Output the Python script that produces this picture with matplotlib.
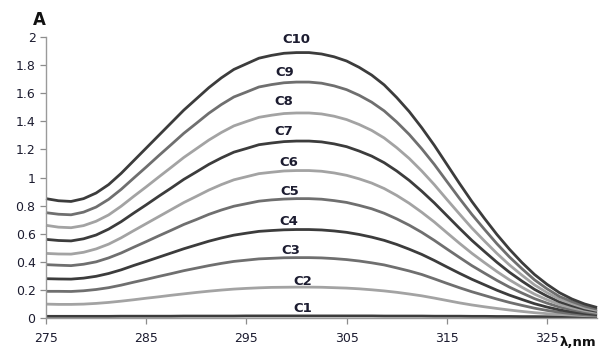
import matplotlib
matplotlib.use("Agg")
import matplotlib.pyplot as plt

# wavelength grid, nm (275 ... 330 every 1.25 nm)
wavelength = [275 + 1.25 * i for i in range(45)]

# absorbance of each solution
c1 = [0.012, 0.012, 0.012, 0.012, 0.012, 0.012, 0.013, 0.013, 0.013, 0.013, 0.013,
      0.014, 0.014, 0.014, 0.014, 0.014, 0.015, 0.015, 0.015, 0.015, 0.015, 0.015,
      0.015, 0.015, 0.015, 0.015, 0.015, 0.014, 0.014, 0.014, 0.014, 0.013, 0.013,
      0.013, 0.012, 0.012, 0.011, 0.011, 0.010, 0.010, 0.009, 0.009, 0.008, 0.008, 0.007]
c2 = [0.099, 0.097, 0.097, 0.099, 0.104, 0.111, 0.120, 0.130, 0.141, 0.151, 0.162,
      0.172, 0.182, 0.191, 0.199, 0.206, 0.211, 0.215, 0.218, 0.219, 0.22, 0.22,
      0.219, 0.216, 0.213, 0.208, 0.201, 0.193, 0.183, 0.171, 0.158, 0.142, 0.125,
      0.108, 0.093, 0.080, 0.068, 0.057, 0.047, 0.038, 0.031, 0.025, 0.021, 0.017, 0.015]
c3 = [0.19, 0.19, 0.189, 0.194, 0.203, 0.216, 0.234, 0.255, 0.275, 0.296, 0.316,
      0.337, 0.355, 0.373, 0.389, 0.403, 0.412, 0.421, 0.425, 0.429, 0.43, 0.43,
      0.428, 0.423, 0.416, 0.406, 0.393, 0.378, 0.357, 0.335, 0.31, 0.279, 0.247,
      0.216, 0.187, 0.161, 0.135, 0.111, 0.09, 0.07, 0.054, 0.041, 0.031, 0.023, 0.018]
c4 = [0.28, 0.278, 0.277, 0.284, 0.297, 0.317, 0.343, 0.374, 0.403, 0.433, 0.463,
      0.493, 0.52, 0.547, 0.57, 0.59, 0.604, 0.617, 0.623, 0.628, 0.63, 0.63,
      0.627, 0.62, 0.61, 0.595, 0.576, 0.553, 0.524, 0.49, 0.453, 0.41, 0.364,
      0.319, 0.276, 0.237, 0.198, 0.163, 0.132, 0.102, 0.078, 0.058, 0.043, 0.032, 0.024]
c5 = [0.38, 0.376, 0.373, 0.383, 0.40, 0.428, 0.463, 0.504, 0.544, 0.585, 0.625,
      0.666, 0.701, 0.738, 0.769, 0.796, 0.814, 0.832, 0.841, 0.847, 0.85, 0.85,
      0.846, 0.836, 0.823, 0.802, 0.778, 0.746, 0.706, 0.661, 0.61, 0.553, 0.492,
      0.432, 0.373, 0.32, 0.268, 0.22, 0.178, 0.138, 0.106, 0.078, 0.059, 0.043, 0.032]
c6 = [0.46, 0.456, 0.455, 0.468, 0.492, 0.526, 0.571, 0.622, 0.672, 0.722, 0.772,
      0.822, 0.866, 0.911, 0.95, 0.984, 1.006, 1.028, 1.038, 1.047, 1.05, 1.05,
      1.045, 1.033, 1.016, 0.991, 0.961, 0.922, 0.873, 0.817, 0.753, 0.684, 0.608,
      0.533, 0.461, 0.395, 0.331, 0.272, 0.219, 0.17, 0.13, 0.096, 0.072, 0.053, 0.039]
c7 = [0.56, 0.552, 0.549, 0.564, 0.591, 0.633, 0.686, 0.747, 0.806, 0.867, 0.926,
      0.987, 1.04, 1.094, 1.14, 1.181, 1.207, 1.234, 1.246, 1.256, 1.26, 1.26,
      1.254, 1.24, 1.22, 1.189, 1.153, 1.106, 1.047, 0.98, 0.903, 0.82, 0.73,
      0.64, 0.553, 0.474, 0.397, 0.326, 0.263, 0.204, 0.156, 0.115, 0.087, 0.063, 0.047]
c8 = [0.66, 0.647, 0.643, 0.658, 0.689, 0.734, 0.796, 0.866, 0.934, 1.004, 1.073,
      1.143, 1.205, 1.267, 1.321, 1.368, 1.399, 1.429, 1.444, 1.456, 1.46, 1.46,
      1.453, 1.437, 1.413, 1.378, 1.336, 1.282, 1.213, 1.136, 1.047, 0.95, 0.845,
      0.742, 0.641, 0.549, 0.46, 0.378, 0.305, 0.236, 0.181, 0.133, 0.102, 0.073, 0.054]
c9 = [0.75, 0.739, 0.735, 0.754, 0.79, 0.845, 0.916, 0.996, 1.075, 1.156, 1.235,
      1.315, 1.386, 1.458, 1.52, 1.574, 1.609, 1.645, 1.662, 1.675, 1.68, 1.68,
      1.672, 1.653, 1.626, 1.586, 1.537, 1.475, 1.396, 1.307, 1.205, 1.094, 0.973,
      0.853, 0.738, 0.632, 0.529, 0.435, 0.351, 0.272, 0.208, 0.153, 0.117, 0.085, 0.063]
c10 = [0.85, 0.835, 0.83, 0.85, 0.89, 0.95, 1.03, 1.12, 1.21, 1.30, 1.39,
       1.48, 1.56, 1.64, 1.71, 1.77, 1.81, 1.85, 1.87, 1.885, 1.89, 1.89,
       1.88, 1.86, 1.83, 1.785, 1.73, 1.66, 1.57, 1.47, 1.355, 1.23, 1.095,
       0.96, 0.83, 0.71, 0.595, 0.49, 0.395, 0.31, 0.24, 0.18, 0.135, 0.10, 0.075]

series = [c1, c2, c3, c4, c5, c6, c7, c8, c9, c10]
names = ["C1", "C2", "C3", "C4", "C5", "C6", "C7", "C8", "C9", "C10"]
# where each curve name sits (wavelength, absorbance)
label_x = [300.6, 300.6, 299.4, 299.2, 299.3, 299.2, 298.7, 298.7, 298.8, 300.0]
label_y = [0.07, 0.26, 0.48, 0.69, 0.90, 1.11, 1.33, 1.54, 1.75, 1.98]

dark, mid, light = "#3c3c3c", "#6f6f6f", "#a3a3a3"
colors = [dark, light, mid, dark, mid, light, dark, light, mid, dark]

yticks = [0, 0.2, 0.4, 0.6, 0.8, 1, 1.2, 1.4, 1.6, 1.8, 2]
yticklabels = ["0", "0.2", "0.4", "0.6", "0.8", "1", "1.2", "1.4", "1.6", "1.8", "2"]
xticks = [275, 285, 295, 305, 315, 325]

txt = "#1c1c30"

fig = plt.figure(figsize=(5.99, 3.56), dpi=100)
ax = fig.add_axes([0.0768, 0.1067, 0.92, 0.789])

for y, c in zip(series, colors):
    ax.plot(wavelength, y, color=c, lw=2.0, solid_joinstyle="round",
            solid_capstyle="butt", clip_on=False)

for n, x, y in zip(names, label_x, label_y):
    ax.text(x, y, n, ha="center", va="center", fontsize=9.5,
            fontweight="bold", color=txt)

ax.set_xlim(275, 330)
ax.set_ylim(0, 2)
ax.set_xticks(xticks)
ax.set_xticklabels([str(t) for t in xticks])
ax.set_yticks(yticks)
ax.set_yticklabels(yticklabels)
ax.tick_params(axis="both", labelsize=9, colors="#8c8c8c", labelcolor=txt,
               length=4, width=0.9)
ax.tick_params(axis="x", pad=6)

for s in ["top", "right"]:
    ax.spines[s].set_visible(False)
for s in ["left", "bottom"]:
    ax.spines[s].set_color("#9a9a9a")
    ax.spines[s].set_linewidth(1.0)

fig.text(39 / 599, 1 - 20 / 356, "A", fontsize=12, fontweight="bold",
         color="#111111", ha="center", va="center")
fig.text(578 / 599, 1 - 343 / 356, "λ,nm", fontsize=9.5, fontweight="bold",
         color="#111111", ha="center", va="center")

fig.savefig("out.png", dpi=100)
